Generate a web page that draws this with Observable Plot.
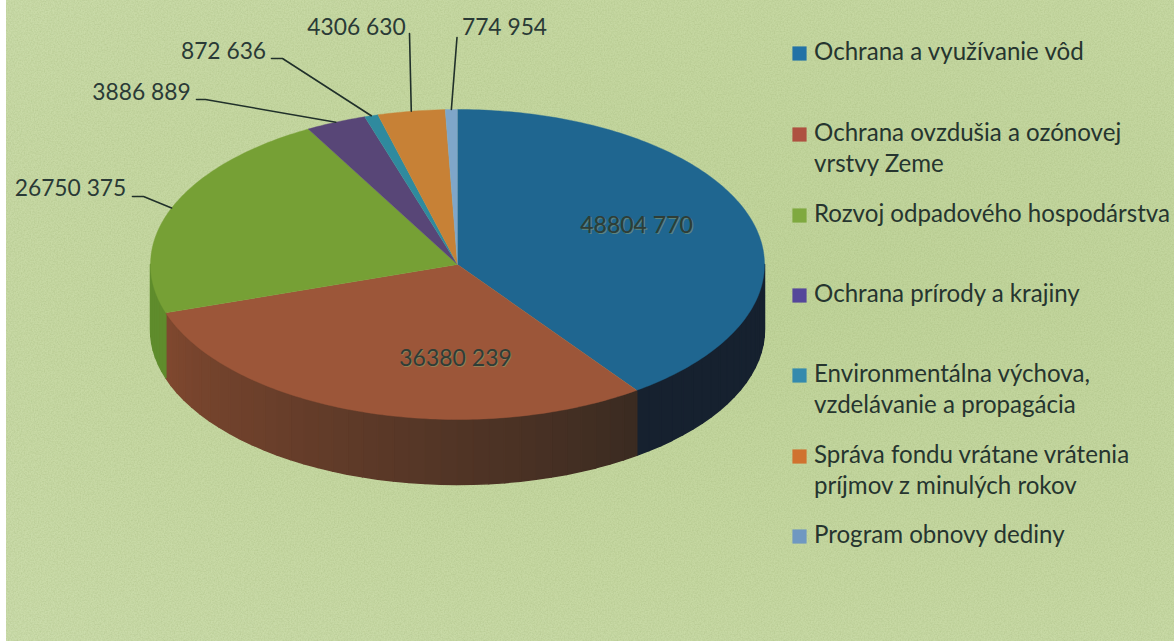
<!DOCTYPE html>
<html lang="sk">
<head>
<meta charset="utf-8">
<script src="https://cdn.jsdelivr.net/npm/d3@7"></script>
<script src="https://cdn.jsdelivr.net/npm/@observablehq/plot@0.6"></script>
<style>
html, body { margin: 0; padding: 0; background: #fff; overflow: hidden; }
#chart {
  width: 1174px; height: 641px; position: relative;
  background:
    linear-gradient(90deg, #fff 0, #fff 6px, transparent 6px),
    url("data:image/svg+xml;utf8,<svg xmlns='http://www.w3.org/2000/svg' width='300' height='300'><filter id='n'><feTurbulence type='fractalNoise' baseFrequency='0.7' numOctaves='2' stitchTiles='stitch'/><feColorMatrix values='0 0 0 0 0.3  0 0 0 0 0.4  0 0 0 0 0.15  0 0 0 0.5 -0.16'/></filter><rect width='300' height='300' filter='url(%23n)'/></svg>"),
    radial-gradient(ellipse at 70% 45%, #c0d49a 0%, #c6d8a2 60%, #cbdcab 100%);
}
svg { display: block; }
</style>
</head>
<body>
<div id="chart"></div>
<script>
// ---- data ----
const names = [
  "Ochrana a využívanie vôd",
  "Ochrana ovzdušia a ozónovej\nvrstvy Zeme",
  "Rozvoj odpadového hospodárstva",
  "Ochrana prírody a krajiny",
  "Environmentálna výchova,\nvzdelávanie a propagácia",
  "Správa fondu vrátane vrátenia\npríjmov z minulých rokov",
  "Program obnovy dediny"
];
const values = [48804770, 36380239, 26750375, 3886889, 872636, 4306630, 774954];
const topColors = ["#1f6690", "#9c5639", "#76a035", "#584677", "#2f8a9e", "#c78136", "#7fa6c9"];
const swatchColors = ["#2272a6", "#ae5140", "#7fa93f", "#55479a", "#348aad", "#d0722f", "#6f98c1"];
const wallFrom = ["#16212f", "#3a2b21", "#5f8c2c", "#584677", "#2f8a9e", "#c78136", "#7fa6c9"];
const wallTo = ["#16212f", "#80482f", "#5f8c2c", "#584677", "#2f8a9e", "#c78136", "#7fa6c9"];

// ---- layout ----
const W = 1174, H = 641;
const pie = {cx: 457, cy: 264, rx: 307, ry: 155, depth: 65};
const inner = {0: [636, 225], 1: [455, 358]};
// centre of each outside label and the leader points before it reaches the slice
const outer = {
  2: {tx: 70,  ty: 188, elbow: [[132, 196], [143, 196]]},
  3: {tx: 141, ty: 92,  elbow: [[196, 99], [205, 99]]},
  4: {tx: 223, ty: 51,  elbow: [[271, 58], [282, 58]]},
  5: {tx: 356, ty: 27,  elbow: [[409, 33]]},
  6: {tx: 504, ty: 27,  elbow: [[456.5, 37]]}
};
const legendRowY = [53, 134, 215, 295, 375, 456, 536];
const legendLineH = 31;
const legendFont = "Lato, Carlito, Calibri, sans-serif";

// ---- derived geometry ----
const total = d3.sum(values);
const fmt = v => String(v).replace(/(\d{3})$/, " $1");
let acc = 0;
const slices = values.map((v, i) => {
  const a0 = acc / total * 360; acc += v; const a1 = acc / total * 360;
  return {i, a0, a1, mid: (a0 + a1) / 2};
});
const px = a => pie.cx + pie.rx * Math.sin(a * Math.PI / 180);
const py = (a, d = 0) => pie.cy - pie.ry * Math.cos(a * Math.PI / 180) + d;

const topPts = slices.flatMap(s => {
  const n = Math.max(2, Math.ceil(s.a1 - s.a0));
  const arc = d3.range(n + 1).map(k => s.a0 + (s.a1 - s.a0) * k / n);
  return [
    {id: s.i, x: pie.cx, y: pie.cy, c: topColors[s.i]},
    ...arc.map(a => ({id: s.i, x: px(a), y: py(a), c: topColors[s.i]}))
  ];
});

const wallPts = slices.flatMap(s => {
  const lo = Math.max(s.a0, 90), hi = Math.min(s.a1, 270);
  if (hi <= lo) return [];
  const step = 3, n = Math.ceil((hi - lo) / step), out = [];
  const col = d3.interpolateRgb(wallFrom[s.i], wallTo[s.i]);
  for (let k = 0; k < n; k++) {
    const a = lo + (hi - lo) * k / n, b = lo + (hi - lo) * (k + 1) / n;
    const c = col((k + 0.5) / n), id = s.i + "-" + k;
    out.push(
      {id, c, x: px(a), y: py(a)}, {id, c, x: px(b), y: py(b)},
      {id, c, x: px(b), y: py(b, pie.depth)}, {id, c, x: px(a), y: py(a, pie.depth)}, {id, c, x: px(a), y: py(a)}
    );
  }
  return out;
});

const leaders = Object.entries(outer).flatMap(([k, o]) => {
  const s = slices[+k];
  return [...o.elbow.map(p => ({id: k, x: p[0], y: p[1]})), {id: k, x: px(s.mid), y: py(s.mid)}];
});

const outerLabels = Object.entries(outer).map(([k, o]) => ({x: o.tx, y: o.ty, t: fmt(values[+k])}));
const innerLabels = Object.entries(inner).map(([k, p]) => ({x: p[0], y: p[1], t: fmt(values[+k])}));

const swatches = names.map((n, i) => ({c: swatchColors[i], y: legendRowY[i]}));
const legendLines = names.flatMap((n, i) =>
  n.split("\n").map((t, k) => ({t, y: legendRowY[i] + k * legendLineH}))
);

const plot = Plot.plot({
  width: W, height: H, margin: 0,
  style: {background: "transparent", overflow: "visible"},
  x: {domain: [0, W], range: [0, W], axis: null},
  y: {domain: [0, H], range: [0, H], axis: null},
  color: {type: "identity"},
  marks: [
    Plot.line(wallPts, {x: "x", y: "y", z: "id", fill: "c", stroke: "c", strokeWidth: 1.5}),
    Plot.line(topPts, {x: "x", y: "y", z: "id", fill: "c", stroke: "c", strokeWidth: 0.4}),
    Plot.line(leaders, {x: "x", y: "y", z: "id", stroke: "#20302a", strokeWidth: 1.6}),
    Plot.text(outerLabels, {
      x: "x", y: "y", text: "t", fontFamily: legendFont, fontSize: 22.8, fill: "#2a3a36"
    }),
    Plot.text(innerLabels, {
      x: "x", y: "y", dx: 1, dy: 1, text: "t", fontFamily: legendFont, fontSize: 23, fill: "#8fa070", fillOpacity: 0.55
    }),
    Plot.text(innerLabels, {
      x: "x", y: "y", text: "t", fontFamily: legendFont, fontSize: 23, fill: "#2f3d36"
    }),
    Plot.dot(swatches, {
      x: () => 799, y: "y", symbol: "square", r: 8, fill: "c", stroke: "none"
    }),
    Plot.text(legendLines, {
      x: () => 813.5, y: "y", dy: -1, text: "t", textAnchor: "start",
      fontFamily: legendFont, fontSize: 24.1, fill: "#26352f"
    })
  ]
});
document.getElementById("chart").appendChild(plot);
</script>
</body>
</html>
